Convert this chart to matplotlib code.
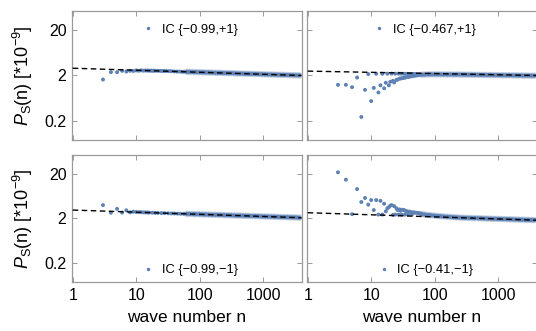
import matplotlib
matplotlib.use('Agg')
import matplotlib.pyplot as plt
from matplotlib.lines import Line2D

plt.rcParams['font.family'] = ['Liberation Sans', 'DejaVu Sans']
plt.rcParams['mathtext.fontset'] = 'custom'
plt.rcParams['mathtext.rm'] = 'Liberation Sans'
plt.rcParams['mathtext.it'] = 'Liberation Sans:italic'

# ---------------- data ----------------
x_ticks = [1, 10, 100, 1000]
x_tick_labels = ['1', '10', '100', '1000']
y_ticks = [0.2, 2, 20]
y_tick_labels = ['0.2', '2', '20']

legend_tl = 'IC {\u22120.99,+1}'
legend_tr = 'IC {\u22120.467,+1}'
legend_bl = 'IC {\u22120.99,\u22121}'
legend_br = 'IC {\u22120.41,\u22121}'

# dashed reference spectra (end points of straight log-log lines)
line_n = [1, 4000]
line_tl = [2.9, 2.0]
line_tr = [2.5, 2.0]
line_bl = [3.1, 2.08]
line_br = [2.7, 1.83]

# low-n points, read individually
n_tl_early = [3, 4, 5, 6, 7, 8, 9, 10, 11, 12, 13, 14, 15, 16, 17, 18, 19, 20, 22, 24, 26, 28, 30, 33, 36, 40, 44, 48, 52, 56]
p_tl_early = [1.63, 2.37, 2.37, 2.54, 2.45, 2.54, 2.52, 2.58, 2.55, 2.60, 2.56, 2.58, 2.57, 2.56, 2.57, 2.55, 2.56, 2.55,
              2.54, 2.53, 2.52, 2.52, 2.51, 2.50, 2.49, 2.46, 2.45, 2.44, 2.43, 2.42]

n_tr_early = [3, 4, 5, 6, 7, 8, 9, 10, 11, 12, 13, 14, 15, 16, 17, 18, 19, 20, 21, 22, 23, 24, 25, 26, 27, 28, 29,
              30, 31, 32, 33, 34, 35, 36, 38, 39, 40, 42, 43, 45, 46, 48, 50, 51, 54, 57, 58]
p_tr_early = [1.24, 1.24, 1.10, 1.80, 0.24, 0.96, 2.15, 0.54, 1.06, 2.18, 0.84, 1.21, 2.18, 1.04, 1.38, 2.20, 1.21,
              1.45, 2.20, 1.52, 1.40, 2.20, 1.60, 1.62, 2.20, 1.70, 1.72, 2.19, 1.74, 1.76, 2.18, 1.80, 1.81, 2.18,
              1.85, 2.17, 1.88, 2.17, 1.91, 2.16, 1.94, 2.16, 1.98, 2.15, 2.02, 2.14, 2.05]

n_bl_early = [3, 4, 5, 6, 7, 8, 9, 10, 11, 12, 13, 14, 15, 16, 18, 20, 22, 25, 28, 32, 36, 40, 45, 50, 56]
p_bl_early = [4.0, 2.7, 3.3, 2.72, 3.05, 2.75, 2.85, 2.80, 2.78, 2.77, 2.75, 2.74, 2.73, 2.72, 2.70, 2.68, 2.67,
              2.65, 2.64, 2.62, 2.60, 2.59, 2.57, 2.56, 2.55]

n_br_early = [3, 4, 5, 6, 7, 8, 9, 10, 11, 12, 13, 14, 15, 16, 17, 18, 19, 20, 21, 22, 23, 24, 25, 26, 27, 28, 29,
              30, 31, 33, 34, 35, 37, 38, 40, 42, 44, 46, 48, 50, 53, 56, 60]
p_br_early = [22.0, 15.0, 2.5, 9.2, 4.7, 5.8, 4.1, 5.2, 3.1, 5.2, 2.45, 5.0, 2.45, 4.3, 2.9, 3.4, 3.6, 3.9, 4.0, 2.4,
              3.8, 2.45, 3.4, 3.1, 2.45, 3.2, 3.0, 2.45, 3.15, 3.1, 2.45, 2.95, 2.9, 2.45, 2.85, 2.8, 2.5, 2.75,
              2.72, 2.7, 2.68, 2.65, 2.6]

# dense part of the spectra (sampled wave numbers)
n_band = [63, 70, 79, 88, 99, 111, 124, 139, 156, 175, 196, 219, 245, 275, 308, 345, 386, 432, 484, 542, 607, 680,
          762, 853, 955, 1070, 1198, 1342, 1503, 1684, 1886, 2112, 2366, 2650, 2968, 3324, 3723]
p_tl_band = [2.41, 2.40, 2.39, 2.38, 2.36, 2.35, 2.34, 2.33, 2.32, 2.30, 2.29, 2.28, 2.27, 2.26, 2.25, 2.24, 2.22,
             2.21, 2.20, 2.19, 2.18, 2.17, 2.16, 2.15, 2.13, 2.12, 2.11, 2.10, 2.09, 2.08, 2.07, 2.06, 2.05, 2.04,
             2.03, 2.02, 2.01]
p_tr_band = [2.08, 2.10, 2.11, 2.12, 2.12, 2.12, 2.12, 2.11, 2.11, 2.11, 2.10, 2.10, 2.10, 2.09, 2.09, 2.08, 2.08,
             2.07, 2.07, 2.06, 2.06, 2.05, 2.05, 2.04, 2.04, 2.03, 2.03, 2.02, 2.02, 2.01, 2.01, 2.00, 2.00, 1.99,
             1.99, 1.98, 1.98]
p_bl_band = [2.54, 2.53, 2.51, 2.50, 2.49, 2.47, 2.46, 2.45, 2.43, 2.42, 2.41, 2.40, 2.38, 2.37, 2.36, 2.34, 2.33,
             2.32, 2.31, 2.30, 2.28, 2.27, 2.26, 2.25, 2.23, 2.22, 2.21, 2.20, 2.19, 2.18, 2.16, 2.15, 2.14, 2.13,
             2.12, 2.11, 2.09]
p_br_band = [2.50, 2.45, 2.40, 2.36, 2.32, 2.28, 2.25, 2.22, 2.19, 2.17, 2.14, 2.12, 2.10, 2.08, 2.07, 2.06, 2.05,
             2.04, 2.03, 2.02, 2.00, 1.99, 1.98, 1.97, 1.96, 1.95, 1.94, 1.93, 1.92, 1.91, 1.90, 1.89, 1.88, 1.87,
             1.86, 1.85, 1.84]

# ---------------- styling ----------------
PT_COLOR = '#5e81b5'
FRAME = '#9a9a9a'
W, H = 536, 331
XLIM = (0.975, 4100)
YLIM = (0.074, 54)

fig = plt.figure(figsize=(W / 100, H / 100), dpi=100)


def add_axes(left, top, right, bottom):
    return fig.add_axes([left / W, 1 - bottom / H, (right - left) / W, (bottom - top) / H])


panels = [
    dict(box=(72, 11, 302, 140), ne=n_tl_early, pe=p_tl_early, pb=p_tl_band, line=line_tl, lab=legend_tl,
         leg=(0.283, 0.853), bottom=False, left=True),
    dict(box=(307, 11, 537, 140), ne=n_tr_early, pe=p_tr_early, pb=p_tr_band, line=line_tr, lab=legend_tr,
         leg=(0.266, 0.853), bottom=False, left=False),
    dict(box=(72, 155, 302, 282), ne=n_bl_early, pe=p_bl_early, pb=p_bl_band, line=line_bl, lab=legend_bl,
         leg=(0.283, 0.094), bottom=True, left=True),
    dict(box=(307, 155, 537, 282), ne=n_br_early, pe=p_br_early, pb=p_br_band, line=line_br, lab=legend_br,
         leg=(0.285, 0.094), bottom=True, left=False),
]

for p in panels:
    ax = add_axes(*p['box'])
    ax.set_xscale('log')
    ax.set_yscale('log')
    ax.set_xlim(*XLIM)
    ax.set_ylim(*YLIM)
    ax.scatter(n_band, p['pb'], s=22, color=PT_COLOR, alpha=0.35, edgecolors='none', zorder=2)
    ax.scatter(n_band, p['pb'], s=9, color=PT_COLOR, edgecolors='none', zorder=2)
    ax.scatter(p['ne'], p['pe'], s=8, color=PT_COLOR, edgecolors='none', zorder=2)
    ax.plot(line_n, p['line'], color='black', lw=1.0, ls=(0, (4, 2.5)), zorder=3)

    ax.set_xticks(x_ticks)
    ax.set_xticklabels(x_tick_labels if p['bottom'] else [])
    ax.set_yticks(y_ticks)
    ax.set_yticklabels(y_tick_labels if p['left'] else [])
    ax.minorticks_off()
    ax.tick_params(axis='both', which='major', direction='in', length=3.5, width=0.7, color=FRAME,
                   top=True, right=True, labelsize=11.5, pad=4,
                   labelbottom=p['bottom'], labelleft=p['left'])
    for s in ax.spines.values():
        s.set_color(FRAME)
        s.set_linewidth(0.9)

    h = Line2D([], [], marker='o', ls='none', ms=2.5, color=PT_COLOR, markeredgewidth=0)
    ax.legend([h], [p['lab']], loc='center left', bbox_to_anchor=p['leg'], frameon=False, borderpad=0,
              handlelength=0.7, handletextpad=0.7, fontsize=9.3)

    if p['left']:
        ax.set_ylabel(r'$P_{\rm S}$(n) [*10$^{-9}$]', fontsize=13, labelpad=7)
    if p['bottom']:
        ax.set_xlabel('wave number n', fontsize=12.5, labelpad=5)

fig.savefig('out.png', dpi=100)
